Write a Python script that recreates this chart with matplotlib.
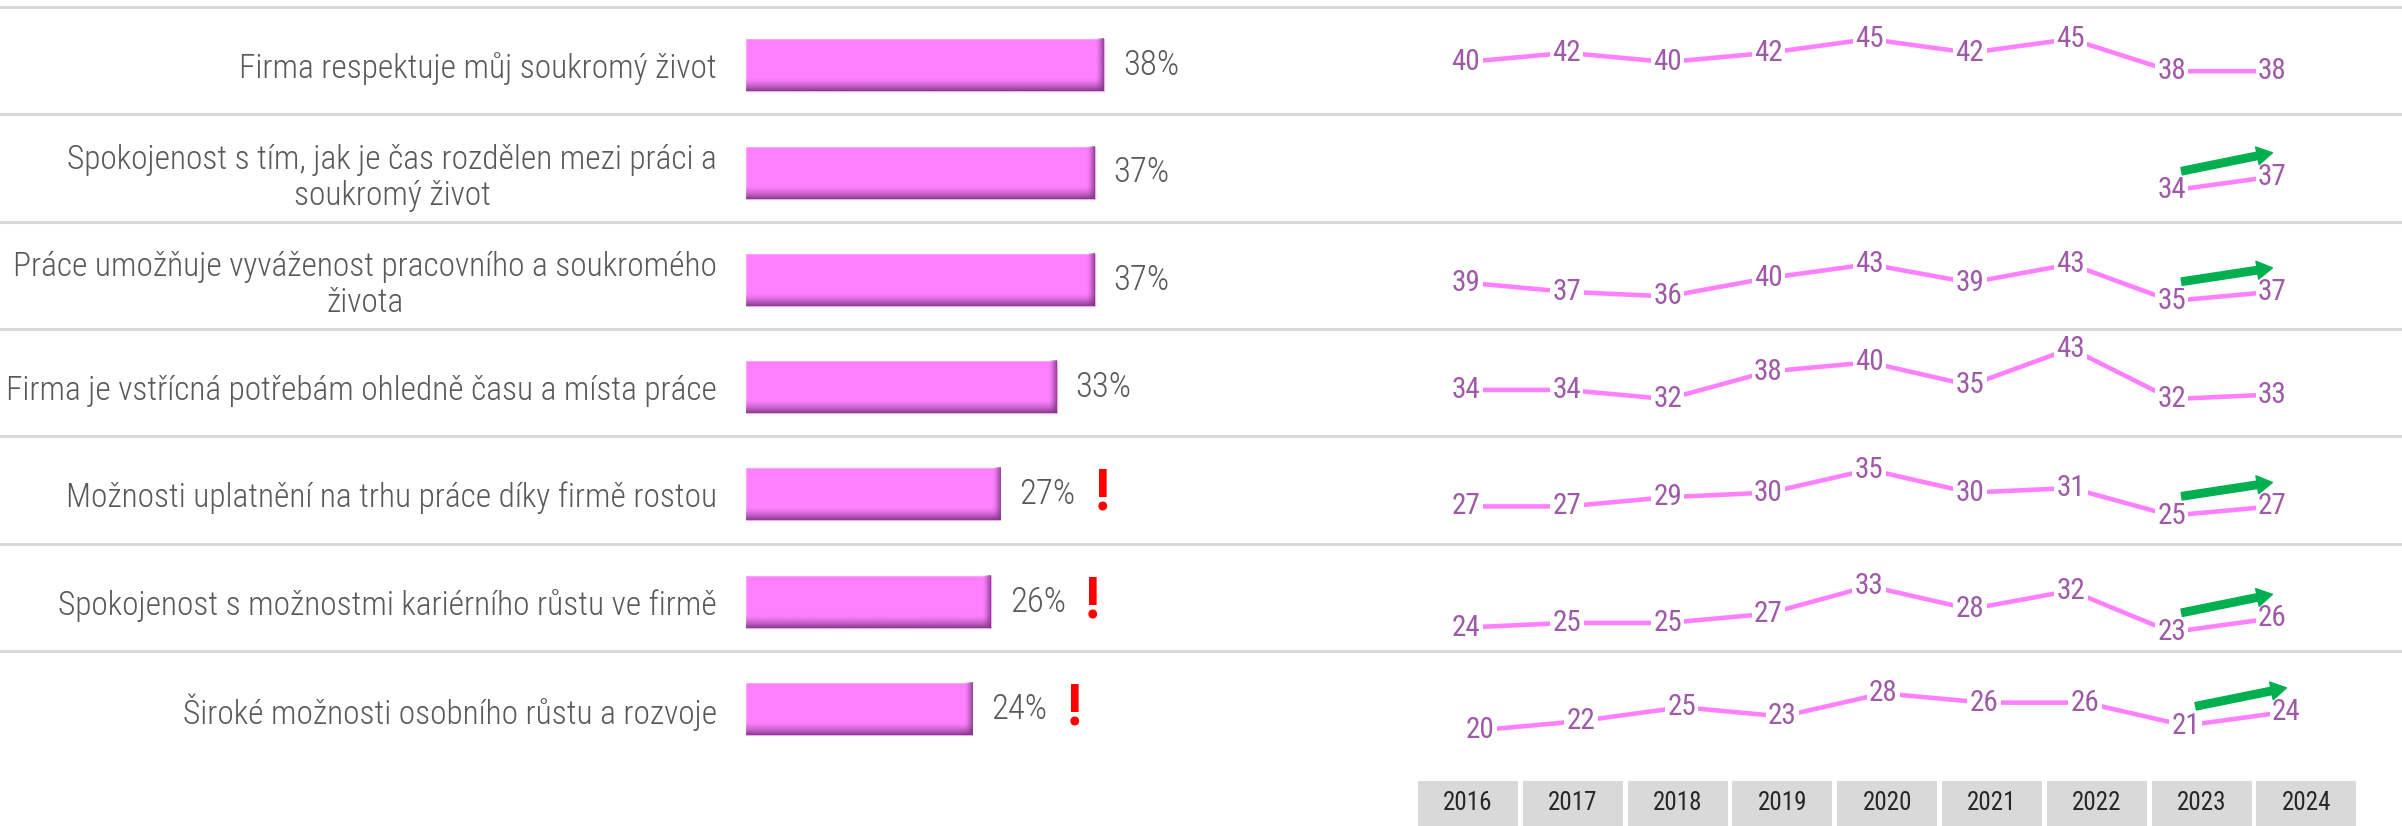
import numpy as np
import matplotlib
matplotlib.use('Agg')
from matplotlib import pyplot as plt
from matplotlib import font_manager, colors

# figure size in pixels
W, H = 2402, 826

# chart data
categories = ['Firma respektuje můj soukromý život',
              'Spokojenost s tím, jak je čas rozdělen mezi práci a\nsoukromý život',
              'Práce umožňuje vyváženost pracovního a soukromého\nživota',
              'Firma je vstřícná potřebám ohledně času a místa práce',
              'Možnosti uplatnění na trhu práce díky firmě rostou',
              'Spokojenost s možnostmi kariérního růstu ve firmě',
              'Široké možnosti osobního růstu a rozvoje']
scores = [38, 37, 37, 33, 27, 26, 24]
years = [2016, 2017, 2018, 2019, 2020, 2021, 2022, 2023, 2024]
trend_privacy = [40, 42, 40, 42, 45, 42, 45, 38, 38]
trend_time_split = [None, None, None, None, None, None, None, 34, 37]
trend_balance = [39, 37, 36, 40, 43, 39, 43, 35, 37]
trend_flexible = [34, 34, 32, 38, 40, 35, 43, 32, 33]
trend_market = [27, 27, 29, 30, 35, 30, 31, 25, 27]
trend_career = [24, 25, 25, 27, 33, 28, 32, 23, 26]
trend_growth = [20, 22, 25, 23, 28, 26, 26, 21, 24]
trends = [trend_privacy, trend_time_split, trend_balance, trend_flexible,
          trend_market, trend_career, trend_growth]
warning = [False, False, False, False, True, True, True]
rising = [False, True, True, False, True, True, True]

# pick a narrow font close to Calibri Light
installed = {f.name for f in font_manager.fontManager.ttflist}
font = next((f for f in ['Roboto Condensed', 'Liberation Sans Narrow', 'Open Sans', 'Lato']
             if f in installed), 'DejaVu Sans')
plt.rcParams['font.family'] = [font, 'DejaVu Sans']

# layout (pixels)
ROW_TOP = 7
ROW_H = 107.3
BAR_LEFT = 746
PX_PER_PCT = 9.42
SPARK_LEFT = 1415.6
SPARK_STEP = 100.8
PX_PER_UNIT = 4.6
spark_mid = [40.3, 38.9, 40.6, 35.6, 30.6, 30.6, 25.6]
spark_shift = [0, 0, 0, 0, 0, 0, 14]

PINK = '#FF80FF'
GREY_TXT = '#595959'


def frac(left, top, width, height):
    return [left / W, 1 - (top + height) / H, width / W, height / H]


fig = plt.figure(figsize=(W / 100, H / 100), dpi=100)

# background with row separators
bg = fig.add_axes([0, 0, 1, 1])
bg.set_xlim(0, W)
bg.set_ylim(H, 0)
bg.axis('off')
for i in range(len(categories)):
    bg.axhline(ROW_TOP + i * ROW_H, color='#d9d9d9', lw=2.2)

# bar part
n = len(categories)
ax = fig.add_axes(frac(BAR_LEFT, ROW_TOP + 4.6, 60 * PX_PER_PCT, n * ROW_H))
ax.patch.set_alpha(0)
for s in ax.spines.values():
    s.set_visible(False)
ax.set_xticks([])
ax.set_yticks(range(n))
ax.set_yticklabels(categories, fontsize=24, color=GREY_TXT, fontweight='light',
                   linespacing=1.15)
for t in ax.get_yticklabels():
    t.set_multialignment('center')
ax.tick_params(axis='y', length=0, pad=21)

h = 0.485
ax.barh(range(n), scores, height=h, color=PINK, edgecolor='#f6a6f6', lw=0.8, zorder=2)

# bevel shading on each bar
dark = colors.to_rgb('#7B3580')
ramp_v = np.zeros((30, 1, 4))
ramp_v[..., :3] = dark
ramp_v[:, 0, 3] = np.linspace(0, 1, 30) ** 1.6 * 0.9
ramp_h = np.zeros((1, 30, 4))
ramp_h[..., :3] = dark
ramp_h[0, :, 3] = np.linspace(0, 1, 30) ** 1.6 * 0.85
for i, v in enumerate(scores):
    ax.imshow(ramp_v, extent=(0, v, i + h / 2, i + h / 2 - 0.26 * h),
              aspect='auto', interpolation='bilinear', zorder=3)
    ax.imshow(ramp_h, extent=(v - 0.9, v, i + h / 2, i - h / 2),
              aspect='auto', interpolation='bilinear', zorder=3)
    ax.text(v + 2.0, i, f'{v}%', va='center', ha='left', fontsize=25,
            color=GREY_TXT, fontweight='light')
    if warning[i]:
        ax.text(v + 10.8, i, '!', va='center', ha='center', fontsize=42,
                color='#FF0000', fontweight='bold')
ax.set_xlim(0, 60)
ax.set_ylim(n - 0.5, -0.5)

# sparklines, one small axes per row
span = ROW_H / PX_PER_UNIT
for i, series in enumerate(trends):
    sa = fig.add_axes(frac(SPARK_LEFT + spark_shift[i], ROW_TOP + i * ROW_H,
                           len(years) * SPARK_STEP, ROW_H))
    sa.set_xlim(years[0] - 0.5, years[-1] + 0.5)
    sa.set_ylim(spark_mid[i] - span / 2, spark_mid[i] + span / 2)
    sa.axis('off')
    yv = np.array(series, dtype=float)
    sa.plot(years, yv, color=PINK, lw=3.3, zorder=1)
    for yr, v in zip(years, series):
        if v is None:
            continue
        sa.text(yr, v, str(v), ha='center', va='center', fontsize=21, color='#9E5AA6',
                bbox=dict(boxstyle='square,pad=0.08', fc='white', ec='none'), zorder=3)
    if rising[i]:
        sa.annotate('', xy=(years[-1], series[-1] + 5.2), xytext=(years[-2] + 0.1, series[-2] + 4.2),
                    arrowprops=dict(arrowstyle='simple,head_length=0.55,head_width=0.65,tail_width=0.27',
                                    color='#00B050', mutation_scale=20, shrinkA=0, shrinkB=0),
                    zorder=4)

# year header boxes
YEAR_STEP = 104.8
ya = fig.add_axes(frac(1468 - YEAR_STEP / 2, 781, len(years) * YEAR_STEP, H - 781))
ya.set_xlim(years[0] - 0.5, years[-1] + 0.5)
ya.set_ylim(0, 1)
ya.axis('off')
ya.bar(years, 1, width=0.955, color='#d9d9d9')
for yr in years:
    ya.text(yr, 0.5, str(yr), ha='center', va='center', fontsize=18, color='#262626')

fig.savefig('out.png', dpi=100)
